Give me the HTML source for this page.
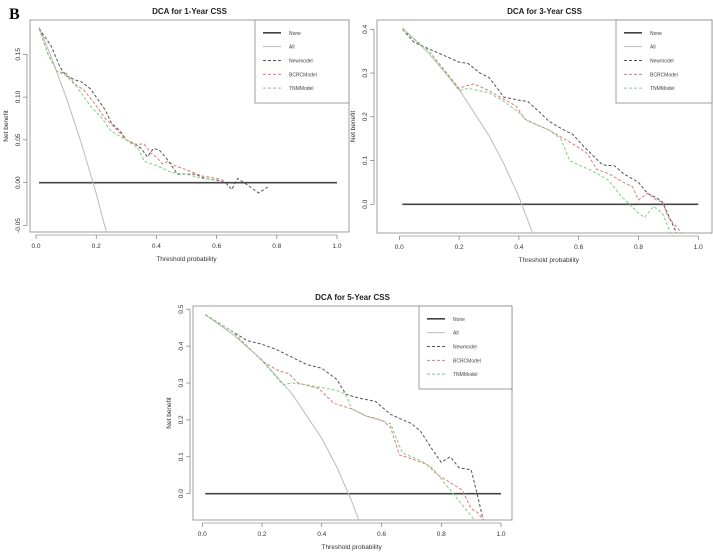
<!DOCTYPE html>
<html><head><meta charset="utf-8"><style>
body{margin:0;background:#fff;width:713px;height:551px;overflow:hidden;font-family:"Liberation Sans",sans-serif}
svg text{font-family:"Liberation Sans",sans-serif}
</style></head><body>
<svg id="s" width="713" height="551">
<text x="9" y="19" style="font-family:'Liberation Serif',serif" font-weight="bold" font-size="16">B</text>
</svg>
<script>
// ---- data ----
const c1Title="DCA for 1-Year CSS";
const c1XTicks=[0,0.2,0.4,0.6,0.8,1.0];
const c1YTicks=[-0.05,0.00,0.05,0.10,0.15];
const c1YTickLabels=["-0.05","0.00","0.05","0.10","0.15"];
const c1All=[[0.01,0.182],[0.05,0.147],[0.1,0.10],[0.15,0.047],[0.2,-0.0125],[0.24,-0.066]];
const c1New=[[0.01,0.18],[0.05,0.16],[0.08,0.135],[0.1,0.125],[0.13,0.12],[0.15,0.118],[0.18,0.11],[0.2,0.1],[0.23,0.085],[0.25,0.07],[0.28,0.06],[0.3,0.05],[0.33,0.045],[0.35,0.04],[0.37,0.03],[0.39,0.04],[0.41,0.038],[0.43,0.03],[0.45,0.02],[0.47,0.01],[0.5,0.01],[0.53,0.01],[0.56,0.005],[0.6,0.003],[0.63,0.0],[0.65,-0.008],[0.67,0.005],[0.7,-0.002],[0.74,-0.012],[0.77,-0.005]];
const c1Bcrc=[[0.01,0.18],[0.04,0.15],[0.07,0.13],[0.1,0.128],[0.13,0.115],[0.16,0.108],[0.2,0.09],[0.23,0.075],[0.26,0.065],[0.3,0.05],[0.33,0.045],[0.36,0.045],[0.38,0.035],[0.4,0.03],[0.42,0.022],[0.44,0.025],[0.46,0.02],[0.5,0.015],[0.55,0.008],[0.6,0.005],[0.63,0.002]];
const c1Tnm=[[0.01,0.18],[0.04,0.15],[0.07,0.13],[0.1,0.125],[0.14,0.11],[0.18,0.09],[0.22,0.075],[0.25,0.06],[0.3,0.05],[0.34,0.04],[0.36,0.025],[0.4,0.02],[0.45,0.012],[0.5,0.01],[0.55,0.005],[0.6,0.003]];

const c2Title="DCA for 3-Year CSS";
const c2XTicks=[0,0.2,0.4,0.6,0.8,1.0];
const c2YTicks=[0,0.1,0.2,0.3,0.4];
const c2YTickLabels=["0.0","0.1","0.2","0.3","0.4"];
const c2All=[[0.01,0.404],[0.1,0.344],[0.2,0.2625],[0.3,0.157],[0.35,0.092],[0.4,0.017],[0.45,-0.073]];
const c2New=[[0.01,0.40],[0.05,0.37],[0.1,0.355],[0.15,0.34],[0.2,0.325],[0.23,0.322],[0.27,0.3],[0.3,0.29],[0.35,0.245],[0.4,0.238],[0.43,0.235],[0.47,0.21],[0.5,0.19],[0.55,0.17],[0.58,0.16],[0.62,0.13],[0.65,0.11],[0.68,0.09],[0.72,0.088],[0.75,0.07],[0.8,0.05],[0.83,0.025],[0.86,0.015],[0.88,0.005],[0.91,-0.04],[0.93,-0.07]];
const c2Bcrc=[[0.01,0.40],[0.1,0.35],[0.2,0.265],[0.22,0.27],[0.25,0.275],[0.3,0.26],[0.35,0.24],[0.39,0.225],[0.42,0.195],[0.45,0.185],[0.5,0.17],[0.55,0.15],[0.6,0.13],[0.63,0.115],[0.66,0.08],[0.7,0.07],[0.75,0.05],[0.78,0.04],[0.8,0.01],[0.83,0.025],[0.86,0.01],[0.88,0.005],[0.9,-0.03],[0.95,-0.07]];
const c2Tnm=[[0.01,0.40],[0.1,0.35],[0.2,0.26],[0.23,0.265],[0.3,0.255],[0.35,0.235],[0.4,0.21],[0.43,0.19],[0.5,0.17],[0.54,0.15],[0.57,0.1],[0.6,0.09],[0.65,0.075],[0.7,0.055],[0.74,0.02],[0.77,0.0],[0.8,-0.02],[0.82,-0.03],[0.85,-0.005],[0.88,-0.02],[0.91,-0.07]];

const c3Title="DCA for 5-Year CSS";
const c3XTicks=[0,0.2,0.4,0.6,0.8,1.0];
const c3YTicks=[0,0.1,0.2,0.3,0.4,0.5];
const c3YTickLabels=["0.0","0.1","0.2","0.3","0.4","0.5"];
const c3All=[[0.01,0.485],[0.1,0.433],[0.2,0.3625],[0.3,0.271],[0.4,0.15],[0.45,0.073],[0.5,-0.02],[0.53,-0.085]];
const c3New=[[0.01,0.485],[0.1,0.44],[0.15,0.415],[0.2,0.405],[0.25,0.39],[0.3,0.37],[0.35,0.35],[0.4,0.34],[0.45,0.31],[0.48,0.27],[0.52,0.26],[0.58,0.25],[0.63,0.215],[0.7,0.19],[0.73,0.17],[0.77,0.12],[0.8,0.085],[0.83,0.1],[0.86,0.07],[0.9,0.065],[0.92,0.0],[0.94,-0.07]];
const c3Bcrc=[[0.01,0.485],[0.1,0.44],[0.2,0.36],[0.25,0.335],[0.29,0.325],[0.32,0.3],[0.39,0.285],[0.44,0.245],[0.5,0.23],[0.55,0.21],[0.6,0.2],[0.63,0.18],[0.66,0.105],[0.7,0.095],[0.75,0.08],[0.79,0.05],[0.83,0.03],[0.87,0.01],[0.9,-0.04],[0.92,-0.05],[0.94,-0.07]];
const c3Tnm=[[0.01,0.485],[0.1,0.44],[0.15,0.4],[0.2,0.36],[0.27,0.295],[0.3,0.3],[0.35,0.295],[0.45,0.28],[0.48,0.27],[0.5,0.23],[0.55,0.21],[0.63,0.19],[0.67,0.11],[0.73,0.09],[0.77,0.07],[0.8,0.04],[0.84,0.0],[0.88,-0.04],[0.91,-0.07]];

const legendLabels=["None","All","Newmodel","BCRCModel","TNMModel"];

const NS="http://www.w3.org/2000/svg";
const svg=document.getElementById('s');
function mk(tag,attrs,parent){const e=document.createElementNS(NS,tag);for(const k in attrs)e.setAttribute(k,attrs[k]);(parent||svg).appendChild(e);return e;}

function chart(id,g,title,xt,yt,ytl,all,nw,bc,tn){
  const sx=v=>g.x0+v*(g.x1-g.x0);
  const sy=v=>g.y0-v*g.ky;
  const grp=mk('g',{});
  
  
  const cp=mk('clipPath',{id:id+'-clip'},grp);
  mk('rect',{x:g.L,y:g.T,width:g.R-g.L,height:g.B-g.T},cp);
  const t=mk('text',{x:(g.L+g.R)/2,y:g.T-6,'text-anchor':'middle','font-size':8,'font-weight':'bold',fill:'#222'},grp);
  t.textContent=title;
  
  
  const xa=mk('g',{},grp);
  
  
  mk('line',{x1:sx(xt[0]),x2:sx(xt[xt.length-1]),y1:g.B+3,y2:g.B+3,stroke:'#666','stroke-width':0.6},xa);
  xt.forEach(v=>{
    mk('line',{x1:sx(v),x2:sx(v),y1:g.B+3,y2:g.B+7,stroke:'#666','stroke-width':0.6},xa);
    const tx=mk('text',{x:sx(v),y:g.B+16,'text-anchor':'middle','font-size':6.5,fill:'#333'},xa);
    tx.textContent=v.toFixed(1);
    
    
  });
  const xl=mk('text',{x:(sx(0)+sx(1))/2,y:g.B+29,'text-anchor':'middle','font-size':6.5,fill:'#333'},grp);
  xl.textContent='Threshold probability';
  
  
  const ya=mk('g',{},grp);
  
  
  mk('line',{x1:g.L-3,x2:g.L-3,y1:sy(yt[0]),y2:sy(yt[yt.length-1]),stroke:'#666','stroke-width':0.6},ya);
  yt.forEach((v,i)=>{
    mk('line',{x1:g.L-3,x2:g.L-7,y1:sy(v),y2:sy(v),stroke:'#666','stroke-width':0.6},ya);
    const tx=mk('text',{x:g.L-10,y:sy(v),'text-anchor':'middle','font-size':6.5,fill:'#333',transform:`rotate(-90 ${g.L-10} ${sy(v)})`},ya);
    tx.textContent=ytl[i];
    
    
  });
  const yl=mk('text',{x:g.L-22,y:(g.T+g.B)/2,'text-anchor':'middle','font-size':6.5,fill:'#333',transform:`rotate(-90 ${g.L-22} ${(g.T+g.B)/2})`},grp);
  yl.textContent='Net benefit';
  
  
  mk('rect',{x:g.L,y:g.T,width:g.R-g.L,height:g.B-g.T,fill:'none',stroke:'#888','stroke-width':0.8},grp);
  const pg=mk('g',{'clip-path':`url(#${id}-clip)`},grp);
  const none=mk('line',{x1:sx(0.01),x2:sx(1),y1:sy(0),y2:sy(0),stroke:'#444','stroke-width':1.6},pg);
  
  
  const ser=[[all,'#bbb','',1,'all-line'],[nw,'#555','3 2',1,'newmodel-line'],[bc,'#e07a7a','3 2',1,'bcrcmodel-line'],[tn,'#7fd07f','3 2',1,'tnmmodel-line']];
  ser.forEach(s=>{
    const p=mk('polyline',{points:s[0].map(d=>sx(d[0])+','+sy(d[1])).join(' '),fill:'none',stroke:s[1],'stroke-width':s[3],'stroke-dasharray':s[2]},pg);
    
    
  });
  const lg=mk('g',{},grp);
  
  
  mk('rect',{x:g.lx,y:g.T,width:g.R-g.lx,height:g.lb-g.T,fill:'#fff',stroke:'#888','stroke-width':0.8},lg);
  const styles=[['#444','',1.6],['#bbb','',1],['#555','3 2',1],['#e07a7a','3 2',1],['#7fd07f','3 2',1]];
  const step=(g.lb-g.T)/6;
  legendLabels.forEach((lab,i)=>{
    const y=g.T+step*(i+1)-1;
    const ent=mk('g',{},lg);
    
    
    mk('line',{x1:g.lx+8,x2:g.lx+26,y1:y,y2:y,stroke:styles[i][0],'stroke-width':styles[i][2],'stroke-dasharray':styles[i][1]},ent);
    const tx=mk('text',{x:g.lx+34,y:y+2,'font-size':5,fill:'#444'},ent);
    tx.textContent=lab;
  });
}
chart('chart-1-year',{L:30,R:349,T:20,B:232,x0:36,x1:337,y0:182.7,ky:856,lx:255,lb:103},c1Title,c1XTicks,c1YTicks,c1YTickLabels,c1All,c1New,c1Bcrc,c1Tnm);
chart('chart-3-year',{L:377,R:712,T:20,B:233,x0:399.3,x1:698.3,y0:204.3,ky:437.5,lx:616,lb:103},c2Title,c2XTicks,c2YTicks,c2YTickLabels,c2All,c2New,c2Bcrc,c2Tnm);
chart('chart-5-year',{L:193,R:512,T:306,B:520,x0:202.3,x1:501,y0:493.7,ky:369,lx:419,lb:389},c3Title,c3XTicks,c3YTicks,c3YTickLabels,c3All,c3New,c3Bcrc,c3Tnm);
</script>
</body></html>
